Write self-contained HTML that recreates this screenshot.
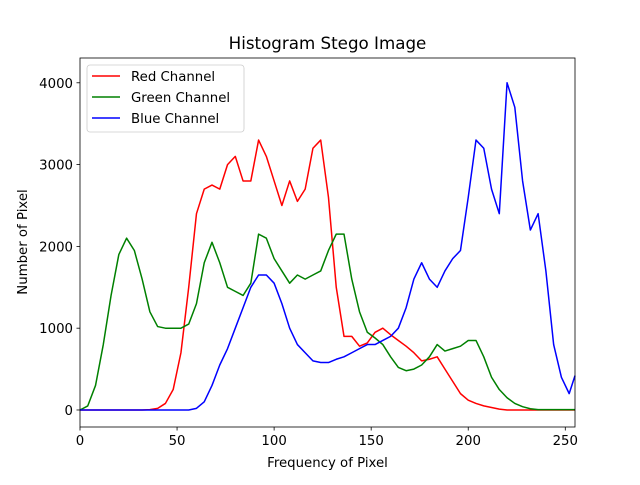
<!DOCTYPE html>
<html><head><meta charset="utf-8"><style>
body{margin:0;background:#fff;font-family:"Liberation Sans","DejaVu Sans",sans-serif}
svg text{font-family:"DejaVu Sans","Liberation Sans",sans-serif;fill:#000}
</style></head><body>
<svg id="chart" width="640" height="480" xmlns="http://www.w3.org/2000/svg"></svg>
<script>
const xValues = [0,4,8,12,16,20,24,28,32,36,40,44,48,52,56,60,64,68,72,76,80,84,88,92,96,100,104,108,112,116,120,124,128,132,136,140,144,148,152,156,160,164,168,172,176,180,184,188,192,196,200,204,208,212,216,220,224,228,232,236,240,244,248,252,255];
const redValues = [0,0,0,0,0,0,0,0,0,5,20,80,250,700,1500,2400,2700,2750,2700,3000,3100,2800,2800,3300,3100,2800,2500,2800,2550,2700,3200,3300,2600,1500,900,900,780,820,950,1000,920,850,780,700,600,620,650,500,350,200,120,80,50,30,10,0,0,0,0,0,0,0,0,0,0];
const greenValues = [0,50,300,800,1400,1900,2100,1950,1600,1200,1020,1000,1000,1000,1050,1300,1800,2050,1800,1500,1450,1400,1550,2150,2100,1850,1700,1550,1650,1600,1650,1700,1950,2150,2150,1600,1200,950,880,800,650,520,480,500,550,650,800,720,750,780,850,850,650,400,250,150,80,40,15,5,5,5,5,5,5];
const blueValues = [0,0,0,0,0,0,0,0,0,0,0,0,0,0,0,20,100,300,550,750,1000,1250,1500,1650,1650,1550,1300,1000,800,700,600,580,580,620,650,700,750,800,800,850,900,1000,1250,1600,1800,1600,1500,1700,1850,1950,2600,3300,3200,2700,2400,4000,3700,2800,2200,2400,1700,800,400,200,420];
const xTicks = [0,50,100,150,200,250];
const yTicks = [0,1000,2000,3000,4000];
const seriesNames = ["Red Channel","Green Channel","Blue Channel"];
const seriesColors = ["#ff0000","#008000","#0000ff"];

const NS="http://www.w3.org/2000/svg";
const svg=document.getElementById('chart');
const L=80,R=575,T=58,B=427;
const xMin=0,xMax=255,yMin=-208,yMax=4303;
const sx=v=>L+(v-xMin)/(xMax-xMin)*(R-L);
const sy=v=>B-(v-yMin)/(yMax-yMin)*(B-T);
function mk(tag,attrs){const e=document.createElementNS(NS,tag);for(const k in attrs)e.setAttribute(k,attrs[k]);svg.appendChild(e);return e;}

const title=mk('text',{x:(L+R)/2,y:49,'text-anchor':'middle','font-size':16.7});
title.textContent='Histogram Stego Image';



const series=[redValues,greenValues,blueValues];
series.forEach((vals,i)=>{
  const d=vals.map((v,j)=>(j?'L':'M')+sx(xValues[j]).toFixed(2)+' '+sy(v).toFixed(2)).join(' ');
  const p=mk('path',{d:d,fill:'none',stroke:seriesColors[i],'stroke-width':1.5,'stroke-linejoin':'round'});
  
  
});

const frame=mk('rect',{x:L,y:T,width:R-L,height:B-T,fill:'none',stroke:'#000','stroke-width':0.8});



xTicks.forEach(t=>{
  mk('line',{x1:sx(t),x2:sx(t),y1:B,y2:B+3.5,stroke:'#000','stroke-width':0.8});
  const tx=mk('text',{x:sx(t),y:B+18,'text-anchor':'middle','font-size':13.3});
  tx.textContent=t;
  
  
});
yTicks.forEach(t=>{
  mk('line',{x1:L-3.5,x2:L,y1:sy(t),y2:sy(t),stroke:'#000','stroke-width':0.8});
  const tx=mk('text',{x:L-7,y:sy(t)+5,'text-anchor':'end','font-size':13.3});
  tx.textContent=t;
  
  
});
const xl=mk('text',{x:(L+R)/2,y:467,'text-anchor':'middle','font-size':13.3});
xl.textContent='Frequency of Pixel';


const yl=mk('text',{x:0,y:0,'text-anchor':'middle','font-size':13.3,transform:'translate(27,242) rotate(-90)'});
yl.textContent='Number of Pixel';



const lg=mk('rect',{x:87,y:65,width:157,height:67,rx:3,fill:'#fff','fill-opacity':0.8,stroke:'#ccc','stroke-width':0.8});


seriesNames.forEach((n,i)=>{
  const y=76+i*21;
  mk('line',{x1:92,x2:120,y1:y,y2:y,stroke:seriesColors[i],'stroke-width':1.5});
  const t=mk('text',{x:131,y:y+5,'font-size':13.3});
  t.textContent=n;
  
  
});
</script>
</body></html>
